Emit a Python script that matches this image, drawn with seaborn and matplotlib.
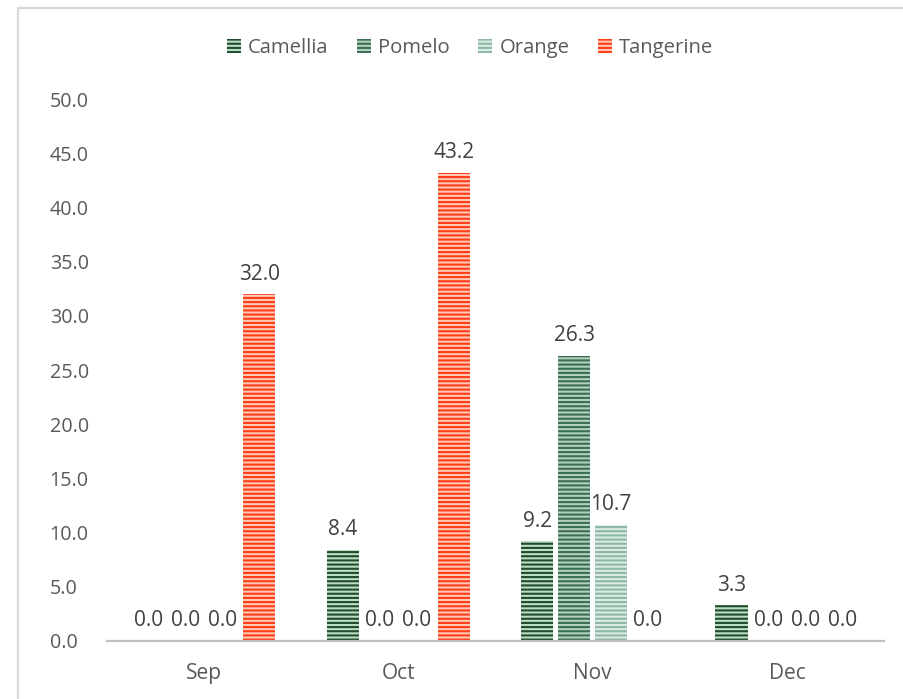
import matplotlib
matplotlib.use('Agg')
import matplotlib.pyplot as plt
from matplotlib.patches import Patch, Rectangle
import seaborn as sns
import pandas as pd

# chart data
months = ['Sep', 'Oct', 'Nov', 'Dec']
fruits = ['Camellia', 'Pomelo', 'Orange', 'Tangerine']
camellia = [0.0, 8.4, 9.2, 3.3]
pomelo = [0.0, 0.0, 26.3, 0.0]
orange = [0.0, 0.0, 10.7, 0.0]
tangerine = [32.0, 43.2, 0.0, 0.0]
y_ticks = [0, 5, 10, 15, 20, 25, 30, 35, 40, 45, 50]

# stripe colour (edge/hatch) and background fill for each series
stripe_colors = ['#1E4D2B', '#3B6E52', '#8DB8A5', '#FF3D14']
fill_colors = ['#BFDCC6', '#B4D0C0', '#DCEBE4', '#FFC9B8']

sns.set_style('white')
plt.rcParams['font.family'] = ['Open Sans', 'DejaVu Sans']
plt.rcParams['hatch.linewidth'] = 1.5

rows = []
for fruit, vals in zip(fruits, [camellia, pomelo, orange, tangerine]):
    for m, v in zip(months, vals):
        rows.append({'Month': m, 'Fruit': fruit, 'Value': v})
df = pd.DataFrame(rows)

fig = plt.figure(figsize=(9.04, 6.99), dpi=100)
ax = fig.add_axes([0.118, 0.083, 0.86, 0.775])

sns.barplot(data=df, x='Month', y='Value', hue='Fruit', order=months,
            hue_order=fruits, palette=stripe_colors, width=0.76, gap=0.13,
            errorbar=None, ax=ax)

for container, sc, fc in zip(ax.containers, stripe_colors, fill_colors):
    for bar in container:
        bar.set_facecolor(fc)
        bar.set_edgecolor(sc)
        bar.set_hatch('----')
        bar.set_linewidth(0)
    ax.bar_label(container, fmt='%.1f', padding=7, fontsize=15, color='#404040')

if ax.get_legend() is not None:
    ax.get_legend().remove()

ax.set_xlim(-0.5, 3.5)
ax.set_ylim(0, 50)
ax.set_yticks(y_ticks)
ax.set_yticklabels([f'{t:.1f}' for t in y_ticks])
ax.set_xlabel('')
ax.set_ylabel('')
ax.tick_params(axis='both', length=0, labelcolor='#595959')
ax.tick_params(axis='y', pad=41, labelsize=14.2)
ax.tick_params(axis='x', pad=16, labelsize=15)
for lbl in ax.get_yticklabels():
    lbl.set_horizontalalignment('left')

for side in ['left', 'right', 'top']:
    ax.spines[side].set_visible(False)
ax.spines['bottom'].set_color('#BFBFBF')
ax.spines['bottom'].set_linewidth(1.6)

handles = [Patch(facecolor=fc, edgecolor=sc, hatch='----', linewidth=0)
           for sc, fc in zip(stripe_colors, fill_colors)]
fig.legend(handles, fruits, loc='center', bbox_to_anchor=(470 / 904, 1 - 48 / 699),
           ncol=4, frameon=False, fontsize=14.6, handlelength=0.7, handleheight=0.7,
           handletextpad=0.35, columnspacing=1.4, labelcolor='#595959')

# light frame around the chart area
fig.add_artist(Rectangle((18 / 904, -0.1), 1.2, 1.1 - 8 / 699, transform=fig.transFigure,
                         fill=False, edgecolor='#D9D9D9', linewidth=1.6))

fig.savefig('out.png', dpi=100)
